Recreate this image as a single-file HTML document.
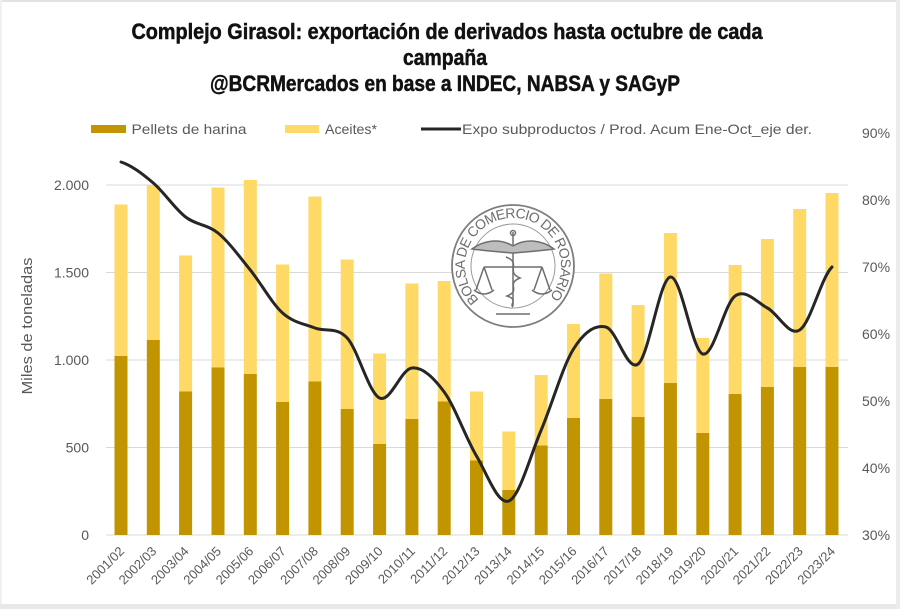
<!DOCTYPE html>
<html>
<head>
<meta charset="utf-8">
<style>
  html,body{margin:0;padding:0;background:#fff;}
  body{width:900px;height:609px;overflow:hidden;}
  svg{display:block;}
  text{font-family:"Liberation Sans", Arial, sans-serif;}
</style>
</head>
<body>
<svg width="900" height="609" viewBox="0 0 900 609" xmlns="http://www.w3.org/2000/svg">
  <rect x="0" y="0" width="900" height="609" fill="#ffffff"/>
  <!-- frame -->
  <rect x="0" y="0" width="900" height="2" fill="#e2e2e2"/>
  <rect x="0" y="0" width="2" height="609" fill="#f0f0f0"/>
  <rect x="0" y="604" width="900" height="5" fill="#e8e8e8"/>
  <rect x="896" y="0" width="4" height="609" fill="#ececec"/>

  <!-- Title -->
  <g font-weight="bold" fill="#111" stroke="#111" stroke-width="0.5" font-size="22" text-anchor="middle">
    <text x="447" y="39" textLength="631" lengthAdjust="spacingAndGlyphs">Complejo Girasol: exportación de derivados hasta octubre de cada</text>
    <text x="445" y="65" textLength="84" lengthAdjust="spacingAndGlyphs">campaña</text>
    <text x="445" y="91" textLength="470" lengthAdjust="spacingAndGlyphs">@BCRMercados en base a INDEC, NABSA y SAGyP</text>
  </g>

  <!-- Legend -->
  <g font-size="14" fill="#595959">
    <rect x="91" y="125" width="35" height="8" fill="#C29400"/>
    <text x="131.5" y="134" textLength="115" lengthAdjust="spacingAndGlyphs">Pellets de harina</text>
    <rect x="285" y="125" width="34" height="8" fill="#FFD966"/>
    <text x="325" y="134" textLength="52" lengthAdjust="spacingAndGlyphs">Aceites*</text>
    <line x1="421" y1="129" x2="461" y2="129" stroke="#262626" stroke-width="3"/>
    <text x="462" y="134" textLength="350" lengthAdjust="spacingAndGlyphs">Expo subproductos / Prod. Acum Ene-Oct_eje der.</text>
  </g>

  <!-- Gridlines -->
  <g stroke="#d9d9d9" stroke-width="1">
    <line x1="106" y1="185" x2="848" y2="185"/>
    <line x1="106" y1="272.5" x2="848" y2="272.5"/>
    <line x1="106" y1="360" x2="848" y2="360"/>
    <line x1="106" y1="447.5" x2="848" y2="447.5"/>
    <line x1="106" y1="535" x2="848" y2="535"/>
  </g>

  <!-- Left axis labels -->
  <g font-size="14" fill="#595959" text-anchor="end">
    <text x="89" y="190">2.000</text>
    <text x="89" y="277.5">1.500</text>
    <text x="89" y="365">1.000</text>
    <text x="89" y="452.5">500</text>
    <text x="89" y="540">0</text>
  </g>
  <text transform="translate(32,326) rotate(-90)" font-size="15" fill="#595959" text-anchor="middle" textLength="137" lengthAdjust="spacingAndGlyphs">Miles de toneladas</text>

  <!-- Right axis labels -->
  <g font-size="14" fill="#595959">
    <text x="862" y="138">90%</text>
    <text x="862" y="205">80%</text>
    <text x="862" y="272">70%</text>
    <text x="862" y="339">60%</text>
    <text x="862" y="406">50%</text>
    <text x="862" y="473">40%</text>
    <text x="862" y="540">30%</text>
  </g>

  <!-- Logo watermark -->
  <g>
    <circle cx="513" cy="266" r="61" fill="#ffffff" stroke="#7e7e7e" stroke-width="1.8"/>
    <circle cx="513" cy="266" r="42" fill="none" stroke="#9a9a9a" stroke-width="1"/>
    <defs>
      <path id="arcp" d="M479.1,299.9 A48,48 0 1 1 546.9,299.9"/>
    </defs>
    <text font-size="14" fill="#6e6e6e">
      <textPath href="#arcp" textLength="222" lengthAdjust="spacing">BOLSA DE COMERCIO DE ROSARIO</textPath>
    </text>
    <g stroke="#6e6e6e" stroke-width="1.5" fill="none">
      <line x1="513" y1="232" x2="513" y2="306"/>
      <circle cx="513" cy="233" r="2.5"/>
      <path d="M513,246 C500,238 484,240 472,249 C487,251 500,252 513,253" fill="#bdbdbd"/>
      <path d="M513,246 C526,238 542,240 554,249 C539,251 526,252 513,253" fill="#bdbdbd"/>
      <line x1="484" y1="267" x2="542" y2="267"/>
      <path d="M484,267 L476,290 M484,267 L492,290 M474,290 Q484,298 494,290"/>
      <path d="M542,267 L534,290 M542,267 L550,290 M532,290 Q542,298 552,290"/>
      <path d="M506,257 C522,263 505,272 520,278 C505,284 522,290 507,296 C519,300 509,304 513,307"/>
      <line x1="496" y1="314" x2="530" y2="314"/>
    </g>
  </g>

  <!-- Bars -->
  <g>
    <g fill="#FFD966">
      <rect x="114.5" y="204.5" width="13" height="151.5"/>
      <rect x="146.8" y="185" width="13" height="155"/>
      <rect x="179.1" y="255.5" width="13" height="136"/>
      <rect x="211.5" y="187.5" width="13" height="180"/>
      <rect x="243.8" y="180" width="13" height="194"/>
      <rect x="276.1" y="264.5" width="13" height="137.5"/>
      <rect x="308.4" y="196.5" width="13" height="185"/>
      <rect x="340.7" y="259.5" width="13" height="149.5"/>
      <rect x="373.1" y="353.5" width="13" height="90.5"/>
      <rect x="405.4" y="283.5" width="13" height="135.5"/>
      <rect x="437.7" y="281" width="13" height="120.5"/>
      <rect x="470" y="391.5" width="13" height="69"/>
      <rect x="502.3" y="431.5" width="13" height="58.5"/>
      <rect x="534.7" y="375" width="13" height="70.5"/>
      <rect x="567" y="324" width="13" height="94"/>
      <rect x="599.3" y="273.5" width="13" height="125.5"/>
      <rect x="631.6" y="305" width="13" height="112"/>
      <rect x="663.9" y="233" width="13" height="150"/>
      <rect x="696.3" y="338" width="13" height="95"/>
      <rect x="728.6" y="265" width="13" height="129"/>
      <rect x="760.9" y="239" width="13" height="148"/>
      <rect x="793.2" y="209" width="13" height="158"/>
      <rect x="825.5" y="193" width="13" height="174"/>
    </g>
    <g fill="#C29400">
      <rect x="114.5" y="356" width="13" height="179"/>
      <rect x="146.8" y="340" width="13" height="195"/>
      <rect x="179.1" y="391.5" width="13" height="143.5"/>
      <rect x="211.5" y="367.5" width="13" height="167.5"/>
      <rect x="243.8" y="374" width="13" height="161"/>
      <rect x="276.1" y="402" width="13" height="133"/>
      <rect x="308.4" y="381.5" width="13" height="153.5"/>
      <rect x="340.7" y="409" width="13" height="126"/>
      <rect x="373.1" y="444" width="13" height="91"/>
      <rect x="405.4" y="419" width="13" height="116"/>
      <rect x="437.7" y="401.5" width="13" height="133.5"/>
      <rect x="470" y="460.5" width="13" height="74.5"/>
      <rect x="502.3" y="490" width="13" height="45"/>
      <rect x="534.7" y="445.5" width="13" height="89.5"/>
      <rect x="567" y="418" width="13" height="117"/>
      <rect x="599.3" y="399" width="13" height="136"/>
      <rect x="631.6" y="417" width="13" height="118"/>
      <rect x="663.9" y="383" width="13" height="152"/>
      <rect x="696.3" y="433" width="13" height="102"/>
      <rect x="728.6" y="394" width="13" height="141"/>
      <rect x="760.9" y="387" width="13" height="148"/>
      <rect x="793.2" y="367" width="13" height="168"/>
      <rect x="825.5" y="367" width="13" height="168"/>
    </g>
  </g>

  <!-- Line -->
  <path fill="none" stroke="#262626" stroke-width="3" stroke-linejoin="round" stroke-linecap="round"
    d="M121,162
       C131.8,165.5 142.5,173.8 153.3,183
       C164.1,192.2 174.8,208.7 185.6,217
       C196.4,225.3 207.2,224.2 218,233
       C228.8,241.8 239.5,256.7 250.3,270
       C261.1,283.3 271.8,303.3 282.6,313
       C293.4,322.7 304.1,323.8 314.9,328
       C325.7,332.2 336.4,326.3 347.2,338
       C358,349.7 368.8,393 379.6,398
       C390.4,403 401.1,369 411.9,368
       C422.7,367 433.4,377.3 444.2,392
       C455,406.7 465.7,437.8 476.5,456
       C487.3,474.2 498,505.3 508.8,501
       C519.6,496.7 530.4,455.3 541.2,430
       C552,404.7 562.7,366.2 573.5,349
       C584.3,331.8 595,324.5 605.8,327
       C616.6,329.5 627.3,372.3 638.1,364
       C648.9,355.7 659.6,278.7 670.4,277
       C681.2,275.3 692,350.8 702.8,354
       C713.6,357.2 724.3,303.7 735.1,296
       C745.9,288.3 756.6,302.3 767.4,308
       C778.2,313.7 788.9,336.8 799.7,330
       C810.5,323.2 821.2,277.5 832,267"/>

  <!-- X labels -->
  <g font-size="13" fill="#595959" text-anchor="end">
    <text transform="translate(125,552) rotate(-45)">2001/02</text>
    <text transform="translate(157.3,552) rotate(-45)">2002/03</text>
    <text transform="translate(189.6,552) rotate(-45)">2003/04</text>
    <text transform="translate(222,552) rotate(-45)">2004/05</text>
    <text transform="translate(254.3,552) rotate(-45)">2005/06</text>
    <text transform="translate(286.6,552) rotate(-45)">2006/07</text>
    <text transform="translate(318.9,552) rotate(-45)">2007/08</text>
    <text transform="translate(351.2,552) rotate(-45)">2008/09</text>
    <text transform="translate(383.6,552) rotate(-45)">2009/10</text>
    <text transform="translate(415.9,552) rotate(-45)">2010/11</text>
    <text transform="translate(448.2,552) rotate(-45)">2011/12</text>
    <text transform="translate(480.5,552) rotate(-45)">2012/13</text>
    <text transform="translate(512.8,552) rotate(-45)">2013/14</text>
    <text transform="translate(545.2,552) rotate(-45)">2014/15</text>
    <text transform="translate(577.5,552) rotate(-45)">2015/16</text>
    <text transform="translate(609.8,552) rotate(-45)">2016/17</text>
    <text transform="translate(642.1,552) rotate(-45)">2017/18</text>
    <text transform="translate(674.4,552) rotate(-45)">2018/19</text>
    <text transform="translate(706.8,552) rotate(-45)">2019/20</text>
    <text transform="translate(739.1,552) rotate(-45)">2020/21</text>
    <text transform="translate(771.4,552) rotate(-45)">2021/22</text>
    <text transform="translate(803.7,552) rotate(-45)">2022/23</text>
    <text transform="translate(836,552) rotate(-45)">2023/24</text>
  </g>
</svg>
</body>
</html>
